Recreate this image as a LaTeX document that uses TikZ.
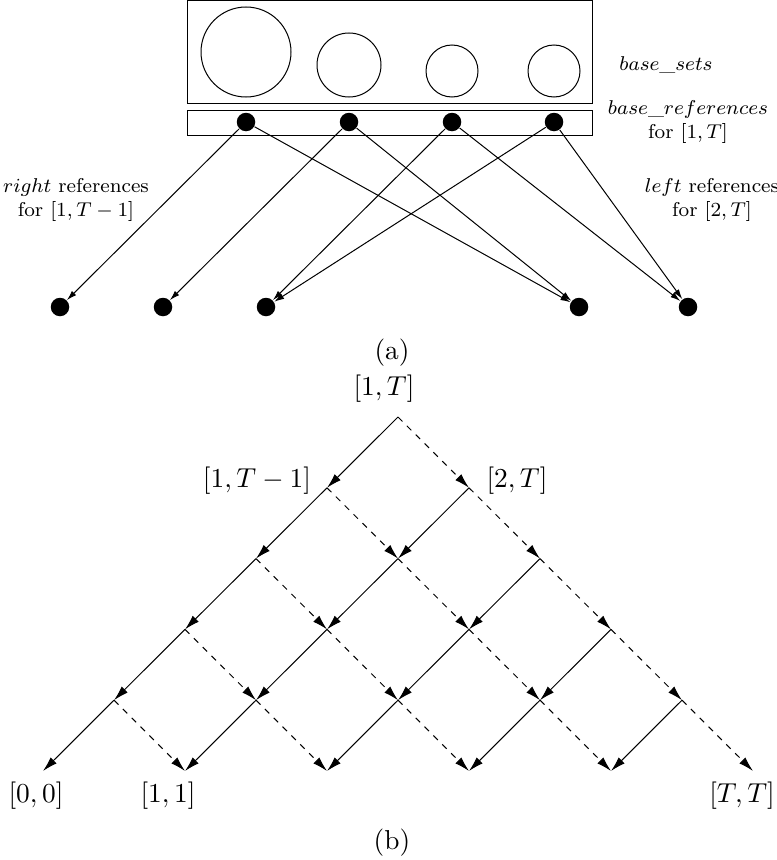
\documentclass[tikz,border=0pt,11pt]{standalone}
\usepackage{amsmath,amssymb}
\usepackage{tikz}
\usetikzlibrary{positioning, arrows.meta}

\begin{document}
\begin{tikzpicture}[
        x=0.4pt, y=-0.4pt,
        box/.style={draw, inner sep=0pt, minimum width=161.6pt, minimum height=#1},
        set/.style={draw, circle, inner sep=0pt, minimum size=#1},
        dot/.style={circle, fill=black, inner sep=0pt, minimum size=7.4pt},
        refarr/.style={-{Latex[length=4pt, width=2.4pt]}},
        solidarr/.style={-{Latex[length=6pt, width=3.4pt]}},
        dasharr/.style={solidarr, dash pattern=on 2.5pt off 2.5pt},
        lbl/.style={font=\scriptsize, align=center},
    ]
    \useasboundingbox (0,0) rectangle (777,860);

    % ---- (a) BASE SETS AND REFERENCES ----
    \node[box=40.8pt] (setbox) at (390,52) {};
    \node[box=10pt] (refbox) at (390,122.5) {};
    \node[set=36pt] (set1) at (246,52) {};
    \node[set=25.6pt] (set2) at (349,65) {};
    \node[set=20.8pt] (set3) at (452,71) {};
    \node[set=20.8pt] (set4) at (554,71) {};

    \node[dot] (ref1) at (246,122) {};
    \node[dot] (ref2) at (349,122) {};
    \node[dot] (ref3) at (452,122) {};
    \node[dot] (ref4) at (554,122) {};

    \node[dot] (rref1) at (60,307) {};
    \node[dot] (rref2) at (163,307) {};
    \node[dot] (rref3) at (266,307) {};
    \node[dot] (lref1) at (579,307) {};
    \node[dot] (lref2) at (688,307) {};

    \node[lbl] (setslbl) at (666,65) {$base\_sets$};
    \node[lbl] (reflbl) at (688,122) {$base\_references$\\for $[1,T]$};
    \node[lbl] (rightlbl) at (76,200) {$right$ references\\for $[1,T-1]$};
    \node[lbl] (leftlbl) at (712,200) {$left$ references\\for $[2,T]$};

    \draw[refarr] (ref1) -- (rref1);
    \draw[refarr] (ref1) -- (lref1);
    \draw[refarr] (ref2) -- (rref2);
    \draw[refarr] (ref2) -- (lref1);
    \draw[refarr] (ref3) -- (rref3);
    \draw[refarr] (ref3) -- (lref2);
    \draw[refarr] (ref4) -- (rref3);
    \draw[refarr] (ref4) -- (lref2);

    \node (capa) at (392,353) {(a)};

    % ---- (b) INTERVAL LATTICE ----
    \foreach \k in {0,...,5}
        \foreach \j in {0,...,\k}
            \coordinate (n\k-\j) at ({398+71*(2*\j-\k)}, {417+70.8*\k});

    \foreach \k in {0,...,4} {
        \pgfmathtruncatemacro\kk{\k+1}
        \foreach \j in {0,...,\k} {
            \pgfmathtruncatemacro\jj{\j+1}
            \draw[solidarr] (n\k-\j) -- (n\kk-\j);
            \draw[dasharr] (n\k-\j) -- (n\kk-\jj);
        }
    }

    \node (top) at (384,389) {$[1,T]$};
    \node (left1) at (257,481) {$[1,T-1]$};
    \node (right1) at (517,481) {$[2,T]$};
    \node (leaf0) at (36,796) {$[0,0]$};
    \node (leaf1) at (168,796) {$[1,1]$};
    \node (leafT) at (742,796) {$[T,T]$};

    \node (capb) at (392,843) {(b)};

\end{tikzpicture}
\end{document}
